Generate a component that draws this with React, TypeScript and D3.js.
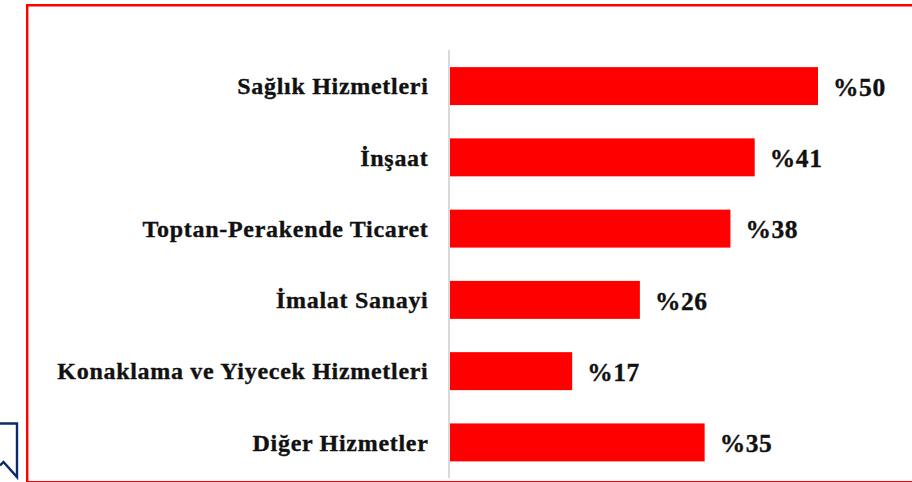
import React from "react";
import * as d3 from "d3";

const categories = ["Sağlık Hizmetleri", "İnşaat", "Toptan-Perakende Ticaret", "İmalat Sanayi", "Konaklama ve Yiyecek Hizmetleri", "Diğer Hizmetler"];
const values = [50, 41.4, 38.1, 25.8, 16.6, 34.6];
const valueLabels = ["%50", "%41", "%38", "%26", "%17", "%35"];

const FONT = "'Liberation Serif', serif";

export default function App() {
  const x = d3.scaleLinear().domain([0, 50]).range([450, 818]);
  const y = d3.scaleBand<string>().domain(categories).range([50.5, 478]).paddingInner(0.467).paddingOuter(0.233);
  return (
    <svg width={912} height={482} style={{ position: "fixed", left: 0, top: 0, display: "block" }}>
      <rect width={912} height={482} fill="#fff" />
      <path d="M0 423.5 H17 V477 L3.5 462 L0 465.5" fill="none" stroke="#0b2a6b" strokeWidth={2.4} />
      <path d="M27.2 482 V5.2 H912" fill="none" stroke="#ff0000" strokeWidth={2.4} />
      <line x1={27} x2={912} y1={481.5} y2={481.5} stroke="#ff0000" strokeWidth={1} />
      <line x1={449} x2={449} y1={50} y2={478} stroke="#d9d9d9" strokeWidth={2} />
      {categories.map((c, i) => {
        const by = y(c)!;
        const cy = by + y.bandwidth() / 2;
        return (
          <g key={c}>
            <rect x={x(0)} y={by} width={x(values[i]) - x(0)} height={y.bandwidth()} fill="#ff0000" />
            <text x={428.5} y={cy} dy="0.34em" textAnchor="end" fontFamily={FONT} fontWeight={700} fontSize={24} letterSpacing={0.7} fill="#111" stroke="#111" strokeWidth={0.35}>{c}</text>
            <text x={x(values[i]) + 15} y={cy + 1} dy="0.34em" fontFamily={FONT} fontWeight={700} fontSize={25.5} letterSpacing={0.6} fill="#111" stroke="#111" strokeWidth={0.35}>{valueLabels[i]}</text>
          </g>
        );
      })}
    </svg>
  );
}
